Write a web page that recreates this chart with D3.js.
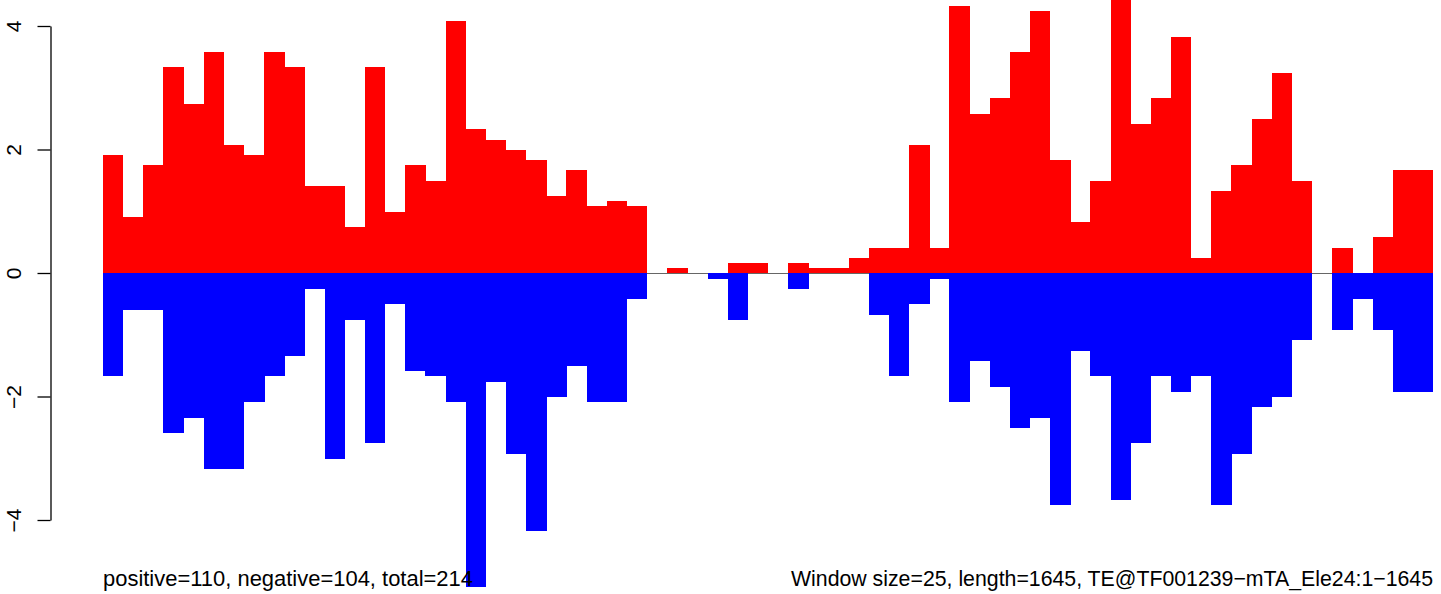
<!DOCTYPE html>
<html>
<head>
<meta charset="utf-8">
<script src="https://cdn.jsdelivr.net/npm/d3@7"></script>
<style>
  html, body { margin: 0; padding: 0; background: #fff; }
  svg { display: block; }
  text { font-family: "Liberation Sans", Arial, Helvetica, sans-serif; }
</style>
</head>
<body>
<div id="chart"></div>
<script>
const windowSize = 25;
const seqLength = 1645;

// per-window scores (66 windows)
const positiveValues = [
  1.91, 0.91, 1.75, 3.34, 2.74, 3.58, 2.07, 1.91, 3.58, 3.34,
  1.41, 1.41, 0.75, 3.34, 0.99, 1.75, 1.49, 4.08, 2.33, 2.16,
  1.99, 1.83, 1.25, 1.67, 1.09, 1.17, 1.09, 0, 0.08, 0,
  0, 0.16, 0.16, 0, 0.16, 0.08, 0.08, 0.24, 0.41, 0.41,
  2.07, 0.41, 4.33, 2.58, 2.84, 3.58, 4.25, 1.83, 0.83, 1.49,
  4.6, 2.41, 2.84, 3.82, 0.24, 1.33, 1.75, 2.50, 3.24, 1.49,
  0, 0.41, 0, 0.58, 1.67, 1.67
];
const negativeValues = [
  -1.67, -0.60, -0.60, -2.59, -2.35, -3.18, -3.18, -2.09, -1.67, -1.35,
  -0.26, -3.01, -0.76, -2.76, -0.50, -1.59, -1.67, -2.09, -5.08, -1.77,
  -2.93, -4.18, -2.01, -1.51, -2.09, -2.09, -0.42, 0, 0, 0,
  -0.10, -0.76, 0, 0, -0.26, 0, 0, 0, -0.68, -1.67,
  -0.50, -0.10, -2.09, -1.43, -1.85, -2.51, -2.35, -3.76, -1.26, -1.67,
  -3.68, -2.76, -1.67, -1.93, -1.67, -3.76, -2.93, -2.17, -2.01, -1.09,
  0, -0.92, -0.42, -0.92, -1.93, -1.93
];
const yTicks = [-4, -2, 0, 2, 4];
const leftNote = 'positive=110, negative=104, total=214';
const rightNote = 'Window size=25, length=1645, TE@TF001239\u2212mTA_Ele24:1\u22121645';

const width = 1441, height = 594;
const windowStarts = positiveValues.map((_, i) => i * windowSize);

const x = d3.scaleBand()
  .domain(windowStarts)
  .range([103, 1433])
  .paddingInner(0).paddingOuter(0);

const y = d3.scaleLinear()
  .domain([-4, 4])
  .range([520, 26]);

const svg = d3.select('#chart')
  .append('svg')
    .attr('width', width)
    .attr('height', height);

// baseline
svg.append('line')
  .attr('x1', x.range()[0]).attr('x2', x.range()[1])
  .attr('y1', y(0) + 0.5).attr('y2', y(0) + 0.5)
  .attr('stroke', '#666')
  .attr('stroke-width', 1.2);

// positive bars
svg.append('g')
  .selectAll('rect')
  .data(positiveValues)
  .join('rect')
    .attr('x', (d, i) => x(windowStarts[i]))
    .attr('width', x.bandwidth() + 0.3)
    .attr('y', d => y(d))
    .attr('height', d => y(0) - y(d))
    .attr('fill', '#ff0000')
    .attr('shape-rendering', 'crispEdges');

// negative bars
svg.append('g')
  .selectAll('rect')
  .data(negativeValues)
  .join('rect')
    .attr('x', (d, i) => x(windowStarts[i]))
    .attr('width', x.bandwidth() + 0.3)
    .attr('y', y(0))
    .attr('height', d => y(d) - y(0))
    .attr('fill', '#0000ff')
    .attr('shape-rendering', 'crispEdges');

// left axis, R style: rotated labels
const axis = svg.append('g')
  .attr('transform', 'translate(50.5,0)')
  .call(d3.axisLeft(y)
    .tickValues(yTicks)
    .tickSize(13)
    .tickSizeOuter(0)
    .tickFormat(d => d < 0 ? '\u2212' + Math.abs(d) : String(d)));

axis.select('.domain').attr('stroke', '#000').attr('stroke-width', 1.3);
axis.selectAll('.tick line').attr('stroke', '#000').attr('stroke-width', 1.3);
axis.selectAll('.tick text')
  .attr('x', null).attr('dy', null)
  .attr('transform', 'translate(-37,0) rotate(-90)')
  .attr('text-anchor', 'middle')
  .attr('dominant-baseline', 'central')
  .attr('fill', '#000')
  .style('font-size', '21px')
  .style('font-family', '"Liberation Sans", Arial, sans-serif');

// notes under the plot
svg.append('text')
  .attr('x', 103).attr('y', 586)
  .attr('text-anchor', 'start')
  .style('font-size', '21.5px')
  .attr('textLength', 370)
  .attr('lengthAdjust', 'spacingAndGlyphs')
  .text(leftNote);

svg.append('text')
  .attr('x', 1433).attr('y', 586)
  .attr('text-anchor', 'end')
  .style('font-size', '21.5px')
  .attr('textLength', 642)
  .attr('lengthAdjust', 'spacingAndGlyphs')
  .text(rightNote);
</script>
</body>
</html>
